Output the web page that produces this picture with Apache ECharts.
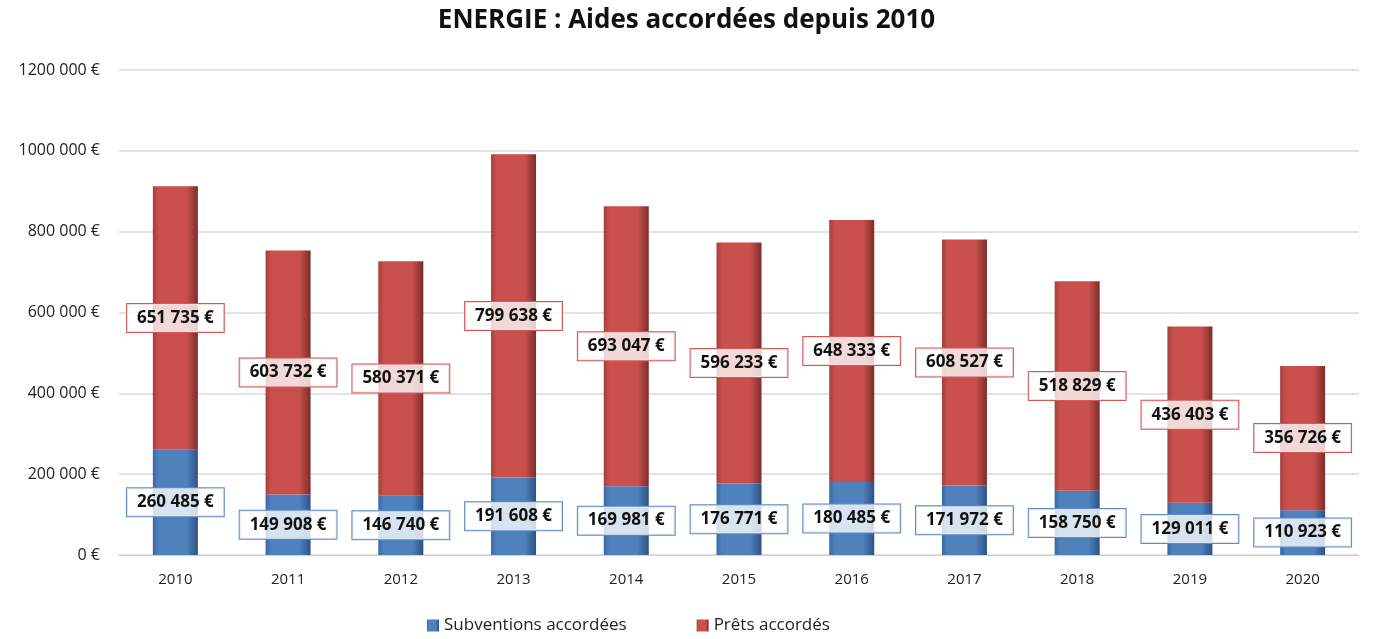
<!DOCTYPE html>
<html>
<head>
<meta charset="utf-8">
<script src="https://cdn.jsdelivr.net/npm/echarts@6/dist/echarts.min.js"></script>
<style>
html, body { margin: 0; padding: 0; background: #fff; }
#chart { width: 1373px; height: 639px; }
</style>
</head>
<body>
<div id="chart"></div>
<script>
const years = ['2010', '2011', '2012', '2013', '2014', '2015', '2016', '2017', '2018', '2019', '2020'];
const subventions = [260485, 149908, 146740, 191608, 169981, 176771, 180485, 171972, 158750, 129011, 110923];
const prets = [651735, 603732, 580371, 799638, 693047, 596233, 648333, 608527, 518829, 436403, 356726];

// only the last group of three digits is split off, like in the source chart
function euro(v) {
  v = Math.round(v);
  if (v < 1000) return v + ' €';
  const s = String(v);
  return s.slice(0, -3) + ' ' + s.slice(-3) + ' €';
}

function cyl(c1, c2, c3) {
  return new echarts.graphic.LinearGradient(0, 0, 1, 0, [
    { offset: 0, color: c1 },
    { offset: 0.12, color: c2 },
    { offset: 0.75, color: c2 },
    { offset: 1, color: c3 }
  ]);
}

function lbl(border) {
  return {
    show: true,
    position: 'inside',
    formatter: p => euro(p.value),
    color: '#111',
    fontFamily: 'Open Sans',
    fontWeight: 'bold',
    fontSize: 17,
    backgroundColor: 'rgba(255,255,255,0.78)',
    borderColor: border,
    borderWidth: 1,
    padding: [6, 10, 5, 10]
  };
}

const chart = echarts.init(document.getElementById('chart'));
chart.setOption({
  animation: false,
  title: {
    text: 'ENERGIE : Aides accordées depuis 2010',
    left: 'center',
    top: 3,
    textStyle: { fontFamily: 'Open Sans', fontWeight: 'bold', fontSize: 26, color: '#111' }
  },
  legend: {
    bottom: 0,
    left: 422,
    itemGap: 70,
    itemWidth: 12,
    itemHeight: 12,
    icon: 'rect',
    textStyle: { fontFamily: 'Open Sans', fontSize: 17, color: '#222' },
    data: ['Subventions accordées', 'Prêts accordés']
  },
  grid: { left: 119, right: 14, top: 70, bottom: 84, containLabel: false },
  xAxis: {
    type: 'category',
    data: years,
    axisTick: { show: false },
    axisLine: { lineStyle: { color: '#d0d0d0' } },
    axisLabel: { fontFamily: 'Open Sans', fontSize: 15, color: '#222', margin: 17 }
  },
  yAxis: {
    type: 'value',
    min: 0,
    max: 1200000,
    interval: 200000,
    axisLine: { show: false },
    axisTick: { show: false },
    splitLine: { lineStyle: { color: '#d9d9d9', width: 1.5 } },
    axisLabel: { fontFamily: 'Open Sans', fontSize: 16, color: '#222', margin: 19, formatter: v => euro(v) }
  },
  series: [
    {
      name: 'Subventions accordées',
      type: 'bar',
      stack: 'total',
      barWidth: 45,
      data: subventions,
      itemStyle: { color: cyl('#3a67a3', '#4f81bd', '#2c5283') },
      label: lbl('#5b8bc6')
    },
    {
      name: 'Prêts accordés',
      type: 'bar',
      stack: 'total',
      barWidth: 45,
      data: prets,
      itemStyle: { color: cyl('#a33f3c', '#c9504d', '#7e2c2a') },
      label: lbl('#d05a57')
    }
  ]
});
</script>
</body>
</html>
